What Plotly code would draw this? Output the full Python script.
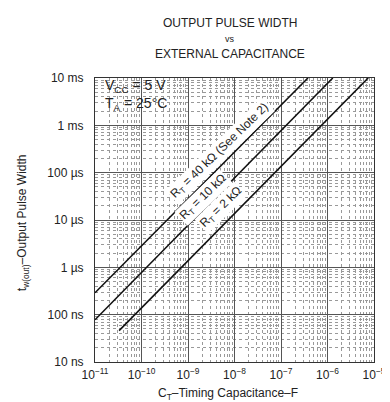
import numpy as np
import plotly.graph_objects as go

# each R_T line is straight on log-log, so two end points each
rt_40k_c = [1e-11, 3.8e-7]
rt_40k_tw = [2.9e-7, 1e-2]
rt_10k_c = [1e-11, 1.3e-6]
rt_10k_tw = [7.8e-8, 1e-2]
rt_2k_c = [3.3e-11, 7.5e-6]
rt_2k_tw = [4.6e-8, 1e-2]

x_ticks = [1e-11, 1e-10, 1e-9, 1e-8, 1e-7, 1e-6, 1e-5]
x_labels = ["10<sup>−11</sup>", "10<sup>−10</sup>", "10<sup>−9</sup>", "10<sup>−8</sup>",
            "10<sup>−7</sup>", "10<sup>−6</sup>", "10<sup>−5</sup>"]
y_ticks = [1e-8, 1e-7, 1e-6, 1e-5, 1e-4, 1e-3, 1e-2]
y_labels = ["10 ns", "100 ns", "1 µs", "10 µs", "100 µs", "1 ms", "10 ms"]

ink = "#222222"
font = "Liberation Sans, Arial, sans-serif"

fig = go.Figure()
for c, tw in [(rt_40k_c, rt_40k_tw), (rt_10k_c, rt_10k_tw), (rt_2k_c, rt_2k_tw)]:
    fig.add_trace(go.Scatter(x=c, y=tw, mode="lines",
                             line=dict(color="#111111", width=1.6),
                             showlegend=False, hoverinfo="skip"))

# curve labels, rotated along the lines
labels = [
    ("R<sub>T</sub> = 40 kΩ (See Note 2)", -8.31, -3.55),
    ("R<sub>T</sub> = 10 kΩ", -8.66, -4.52),
    ("R<sub>T</sub> = 2 kΩ", -8.3, -4.74),
]
for txt, lx, ly in labels:
    fig.add_annotation(x=lx, y=ly, text=txt, showarrow=False, textangle=-44,
                       font=dict(size=12, color=ink, family=font),
                       bgcolor="white")

fig.add_annotation(xref="paper", yref="paper", x=0.03, y=1.01, xanchor="left", yanchor="top",
                   text="V<sub>CC</sub> = 5 V<br>T<sub>A</sub> = 25°C", align="left",
                   showarrow=False, font=dict(size=14, color=ink, family=font))

# title, three centred lines
for txt, ty, sz in [("OUTPUT PULSE WIDTH", 15, 12), ("vs", 31, 9), ("EXTERNAL CAPACITANCE", 46, 12)]:
    fig.add_annotation(xref="paper", yref="paper", x=(226 - 87) / 288, y=(354 - ty) / 284,
                       xanchor="center", yanchor="middle", text=txt, showarrow=False,
                       font=dict(size=sz, color=ink, family=font))

# axis titles
fig.add_annotation(xref="paper", yref="paper", x=(224 - 87) / 288, y=-(386 - 354) / 284,
                   xanchor="center", yanchor="middle",
                   text="C<sub>T</sub>–Timing Capacitance–F", showarrow=False,
                   font=dict(size=12, color=ink, family=font))
fig.add_annotation(xref="paper", yref="paper", x=-(87 - 13) / 288, y=0.49, textangle=-90,
                   xanchor="center", yanchor="middle",
                   text="t<sub>w(out)</sub>–Output Pulse Width", showarrow=False,
                   font=dict(size=12, color=ink, family=font))

grid_minor = dict(dtick="D1", showgrid=True, gridcolor="#999999", gridwidth=0.8, griddash="dot")
fig.update_layout(
    width=390, height=402,
    margin=dict(l=87, r=15, t=70, b=48),
    paper_bgcolor="white", plot_bgcolor="white",
    font=dict(family=font, color=ink),
)
fig.update_xaxes(type="log", range=[-11, -5], tickmode="array", tickvals=x_ticks, ticktext=x_labels,
                 tickfont=dict(size=12), showline=True, mirror=True, linecolor="#333333", linewidth=1,
                 showgrid=True, gridcolor="#555555", gridwidth=1, ticklabelstandoff=2,
                 minor=grid_minor)
fig.update_yaxes(type="log", range=[-8, -2], tickmode="array", tickvals=y_ticks, ticktext=y_labels,
                 tickfont=dict(size=12), showline=True, mirror=True, linecolor="#333333", linewidth=1,
                 showgrid=True, gridcolor="#555555", gridwidth=1, ticklabelstandoff=8,
                 minor=grid_minor)

fig.write_html("out.html")
